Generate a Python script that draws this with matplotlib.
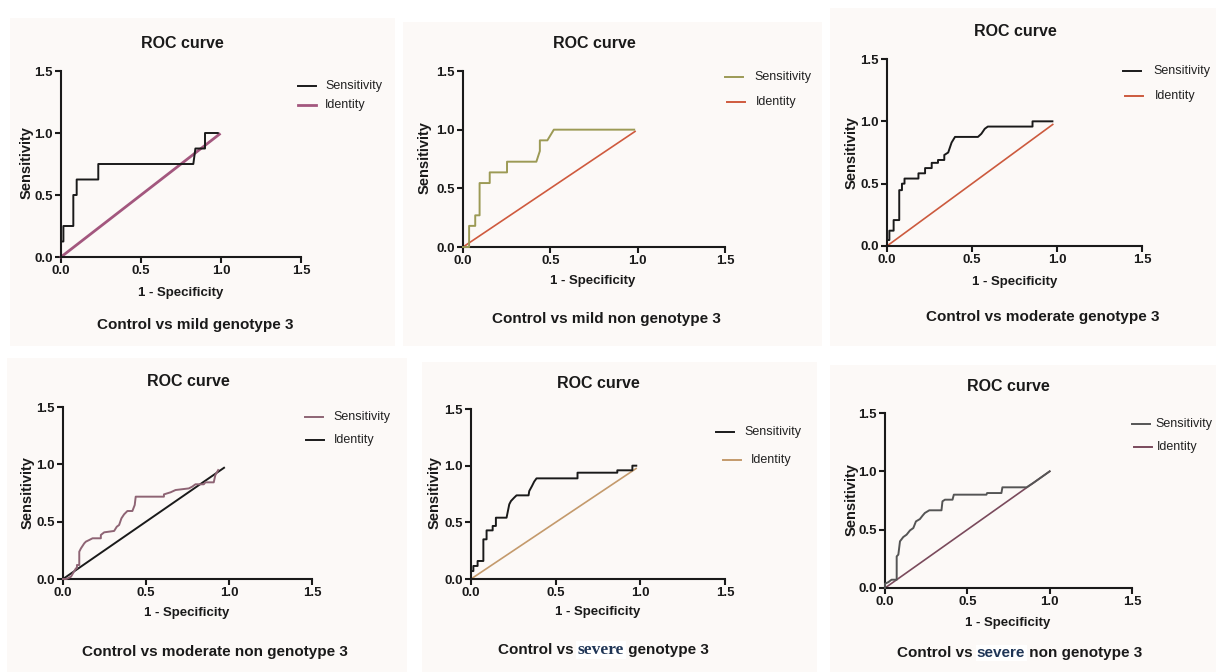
import matplotlib
matplotlib.use("Agg")
import matplotlib.pyplot as plt
from matplotlib.patches import Rectangle
from matplotlib.lines import Line2D

plt.rcParams["font.family"] = ["Liberation Sans", "DejaVu Sans"]

W, H = 1216, 672

# ── ROC curve vertices (1 - specificity, sensitivity) ──
P1_FPR = [0, 0, 0.015, 0.015, 0.077, 0.077, 0.098, 0.098, 0.233, 0.233, 0.827, 0.84, 0.9, 0.9, 0.98]
P1_TPR = [0, 0.125, 0.125, 0.25, 0.25, 0.5, 0.5, 0.625, 0.625, 0.75, 0.75, 0.875, 0.875, 1.0, 1.0]

P2_FPR = [0, 0.035, 0.035, 0.07, 0.07, 0.095, 0.095, 0.153, 0.153, 0.252, 0.252, 0.42, 0.44, 0.44,
          0.483, 0.52, 0.98]
P2_TPR = [0, 0.0, 0.18, 0.18, 0.27, 0.27, 0.545, 0.545, 0.636, 0.636, 0.727, 0.727, 0.818, 0.909,
          0.909, 1.0, 1.0]

P3_FPR = [0, 0, 0.014, 0.014, 0.039, 0.039, 0.072, 0.072, 0.088, 0.088, 0.103, 0.103, 0.185, 0.185,
          0.224, 0.224, 0.263, 0.263, 0.30, 0.30, 0.337, 0.337, 0.36, 0.38, 0.40, 0.535, 0.555, 0.575,
          0.593, 0.856, 0.856, 0.973]
P3_TPR = [0, 0.048, 0.048, 0.123, 0.123, 0.208, 0.208, 0.448, 0.448, 0.50, 0.50, 0.541, 0.541, 0.583,
          0.583, 0.625, 0.625, 0.667, 0.667, 0.69, 0.69, 0.73, 0.75, 0.83, 0.875, 0.875, 0.9, 0.94,
          0.958, 0.958, 1.0, 1.0]

P4_FPR = [0, 0.02, 0.048, 0.06, 0.078, 0.084, 0.084, 0.098, 0.098, 0.108, 0.128, 0.138, 0.158, 0.178,
          0.228, 0.228, 0.248, 0.308, 0.324, 0.338, 0.352, 0.368, 0.388, 0.418, 0.432, 0.438, 0.608,
          0.608, 0.648, 0.678, 0.758, 0.778, 0.798, 0.848, 0.858, 0.908, 0.918, 0.935]
P4_TPR = [0, 0.0, 0.02, 0.05, 0.093, 0.093, 0.122, 0.122, 0.238, 0.267, 0.311, 0.326, 0.34, 0.355,
          0.355, 0.384, 0.407, 0.419, 0.456, 0.471, 0.529, 0.564, 0.593, 0.593, 0.645, 0.718, 0.718,
          0.738, 0.756, 0.776, 0.79, 0.805, 0.826, 0.826, 0.843, 0.843, 0.907, 0.95]

P5_FPR = [0, 0, 0.014, 0.014, 0.039, 0.039, 0.073, 0.073, 0.092, 0.092, 0.128, 0.128, 0.147, 0.147,
          0.21, 0.226, 0.236, 0.255, 0.269, 0.34, 0.344, 0.36, 0.373, 0.387, 0.629, 0.629, 0.864,
          0.864, 0.953, 0.953, 0.976]
P5_TPR = [0, 0.07, 0.07, 0.115, 0.115, 0.159, 0.159, 0.35, 0.35, 0.429, 0.429, 0.468, 0.468, 0.541,
          0.541, 0.659, 0.688, 0.718, 0.738, 0.738, 0.776, 0.82, 0.859, 0.888, 0.888, 0.938, 0.938,
          0.959, 0.959, 1.0, 1.0]

P6_FPR = [0, 0, 0.02, 0.04, 0.071, 0.071, 0.081, 0.091, 0.111, 0.131, 0.152, 0.172, 0.188, 0.212,
          0.228, 0.242, 0.269, 0.343, 0.349, 0.364, 0.41, 0.418, 0.616, 0.62, 0.707, 0.713, 0.86,
          0.9, 0.94, 0.97, 1.0]
P6_TPR = [0, 0.037, 0.05, 0.071, 0.071, 0.271, 0.286, 0.4, 0.437, 0.457, 0.494, 0.514, 0.571, 0.591,
          0.62, 0.643, 0.666, 0.666, 0.743, 0.757, 0.757, 0.8, 0.8, 0.814, 0.814, 0.863, 0.863,
          0.9, 0.94, 0.97, 1.0]

# end point of the identity line in each panel
IDENT_END = [0.99, 0.985, 0.975, 0.97, 0.975, 1.0]

TICKS = [0.0, 0.5, 1.0, 1.5]
TICK_LABELS = ["0.0", "0.5", "1.0", "1.5"]
LEGEND_LABELS = ["Sensitivity", "Identity"]
SUBTITLES = [
    ["Control vs mild genotype 3"],
    ["Control vs mild non genotype 3"],
    ["Control vs moderate genotype 3"],
    ["Control vs moderate non genotype 3"],
    ["Control vs", "severe", "genotype 3"],
    ["Control vs", "severe", "non genotype 3"],
]

# ── Styling per panel ─────────────────────────────────────────────────
SENS_COLORS = ["#1a1a1a", "#9c9a55", "#1a1a1a", "#8e6474", "#1a1a1a", "#555555"]
IDENT_COLORS = ["#a3577e", "#cf5a3e", "#cc5a3e", "#1a1a1a", "#c49a6c", "#7a4a5c"]
IDENT_LW = [2.0, 1.2, 1.2, 1.4, 1.2, 1.2]
BG = "#fcf9f7"

# pixel boxes: panel background (x0, y0, x1, y1) and axes (left, top, right, bottom)
PANEL_BOX = [(10, 18, 395, 346), (403, 22, 822, 346), (830, 8, 1216, 346),
             (7, 358, 407, 672), (422, 362, 817, 672), (830, 365, 1216, 672)]
AX_BOX = [(61, 71, 301, 257), (463, 71, 725, 247), (887, 59, 1142, 246),
          (63, 407, 312, 579), (471, 409, 725, 579), (885, 413, 1132, 588)]
TITLE_POS = [(182, 43), (594, 44), (1015, 32), (188, 382), (598, 383), (1008, 387)]
XLAB_POS = [(181, 293), (593, 281), (1015, 282), (187, 613), (598, 612), (1008, 623)]
YLAB_POS = [(27, 163), (425, 158), (852, 153), (28, 493), (435, 493), (852, 500)]
SUB_POS = [(195, 325), (606, 319), (1043, 317), (215, 652), (498, 650), (897, 653)]
# legend: line x start, row1 y, row2 y, text gap, extra shift of the Identity row
LEG_POS = [(298, 86, 105, 27, 0), (725, 77, 102, 29, 2), (1123, 71, 96, 30, 2),
           (305, 417, 440, 28, 1), (716, 432, 460, 28, 7), (1132, 424, 447, 23, 2)]

CURVES = [(P1_FPR, P1_TPR), (P2_FPR, P2_TPR), (P3_FPR, P3_TPR),
          (P4_FPR, P4_TPR), (P5_FPR, P5_TPR), (P6_FPR, P6_TPR)]


def fx(x):
    return x / W


def fy(y):
    return 1 - y / H


fig = plt.figure(figsize=(W / 100, H / 100), dpi=100)
fig.patch.set_facecolor("white")

for i, (fpr, tpr) in enumerate(CURVES):
    x0, y0, x1, y1 = PANEL_BOX[i]
    fig.patches.append(Rectangle((fx(x0), fy(y1)), fx(x1 - x0), (y1 - y0) / H,
                                 transform=fig.transFigure, facecolor=BG,
                                 edgecolor="none", zorder=-5))

    l, t, r, b = AX_BOX[i]
    ax = fig.add_axes([fx(l), fy(b), fx(r - l), (b - t) / H])
    ax.set_facecolor("none")
    ax.plot([0, IDENT_END[i]], [0, IDENT_END[i]], color=IDENT_COLORS[i],
            lw=IDENT_LW[i], clip_on=False, zorder=2)
    ax.plot(fpr, tpr, color=SENS_COLORS[i], lw=1.4, clip_on=False, zorder=3)

    ax.set_xlim(0, 1.5)
    ax.set_ylim(0, 1.5)
    ax.set_xticks(TICKS)
    ax.set_yticks(TICKS)
    ax.set_xticklabels(TICK_LABELS, fontweight="bold")
    ax.set_yticklabels(TICK_LABELS, fontweight="bold")
    ax.tick_params(direction="out", length=4, width=1.5, labelsize=9.5, pad=2,
                   color="#1a1a1a", labelcolor="#1a1a1a")
    for side in ["top", "right"]:
        ax.spines[side].set_visible(False)
    for side in ["left", "bottom"]:
        ax.spines[side].set_linewidth(1.5)
        ax.spines[side].set_color("#1a1a1a")

    tx, ty = TITLE_POS[i]
    fig.text(fx(tx), fy(ty), "ROC curve", ha="center", va="center",
             fontsize=11.5, fontweight="bold", color="#1a1a1a")
    tx, ty = XLAB_POS[i]
    fig.text(fx(tx), fy(ty), "1 - Specificity", ha="center", va="center",
             fontsize=9.5, fontweight="bold", color="#1a1a1a")
    tx, ty = YLAB_POS[i]
    fig.text(fx(tx), fy(ty), "Sensitivity", ha="center", va="center", rotation=90,
             fontsize=10.5, fontweight="bold", color="#1a1a1a")

    # legend drawn by hand so it sits where GraphPad put it
    lx, ry1, ry2, gap, shift = LEG_POS[i]
    for label, color, lw, ry, dx in [
        (LEGEND_LABELS[0], SENS_COLORS[i], 1.4, ry1, 0),
        (LEGEND_LABELS[1], IDENT_COLORS[i], max(IDENT_LW[i], 1.4), ry2, shift),
    ]:
        fig.add_artist(Line2D([fx(lx + dx), fx(lx + dx + 18)], [fy(ry), fy(ry)],
                              color=color, lw=lw, transform=fig.transFigure))
        fig.text(fx(lx + dx + gap), fy(ry), label, ha="left", va="center",
                 fontsize=9, color="#222222")

    # subtitle below each panel
    sx, sy = SUB_POS[i]
    parts = SUBTITLES[i]
    if len(parts) == 1:
        fig.text(fx(sx), fy(sy), parts[0], ha="center", va="center",
                 fontsize=11, fontweight="bold", color="#1a1a1a")
    else:
        t1 = fig.text(fx(sx), fy(sy), parts[0] + " ", ha="left", va="center",
                      fontsize=11, fontweight="bold", color="#1a1a1a")
        if i == 4:
            mid_style = dict(family=["Liberation Serif"], fontsize=12.5, fontweight="bold")
        else:
            mid_style = dict(fontsize=11, fontweight="bold")
        t2 = ax.annotate(parts[1], xy=(1, 0.5), xycoords=t1, ha="left", va="center",
                         color="#1f3556", annotation_clip=False, zorder=10,
                         bbox=dict(facecolor="white", edgecolor="none", pad=1), **mid_style)
        ax.annotate(" " + parts[2], xy=(1, 0.5), xycoords=t2, ha="left", va="center",
                    fontsize=11, fontweight="bold", color="#1a1a1a", annotation_clip=False,
                    zorder=10)

fig.savefig("out.png", dpi=100, facecolor="white")
